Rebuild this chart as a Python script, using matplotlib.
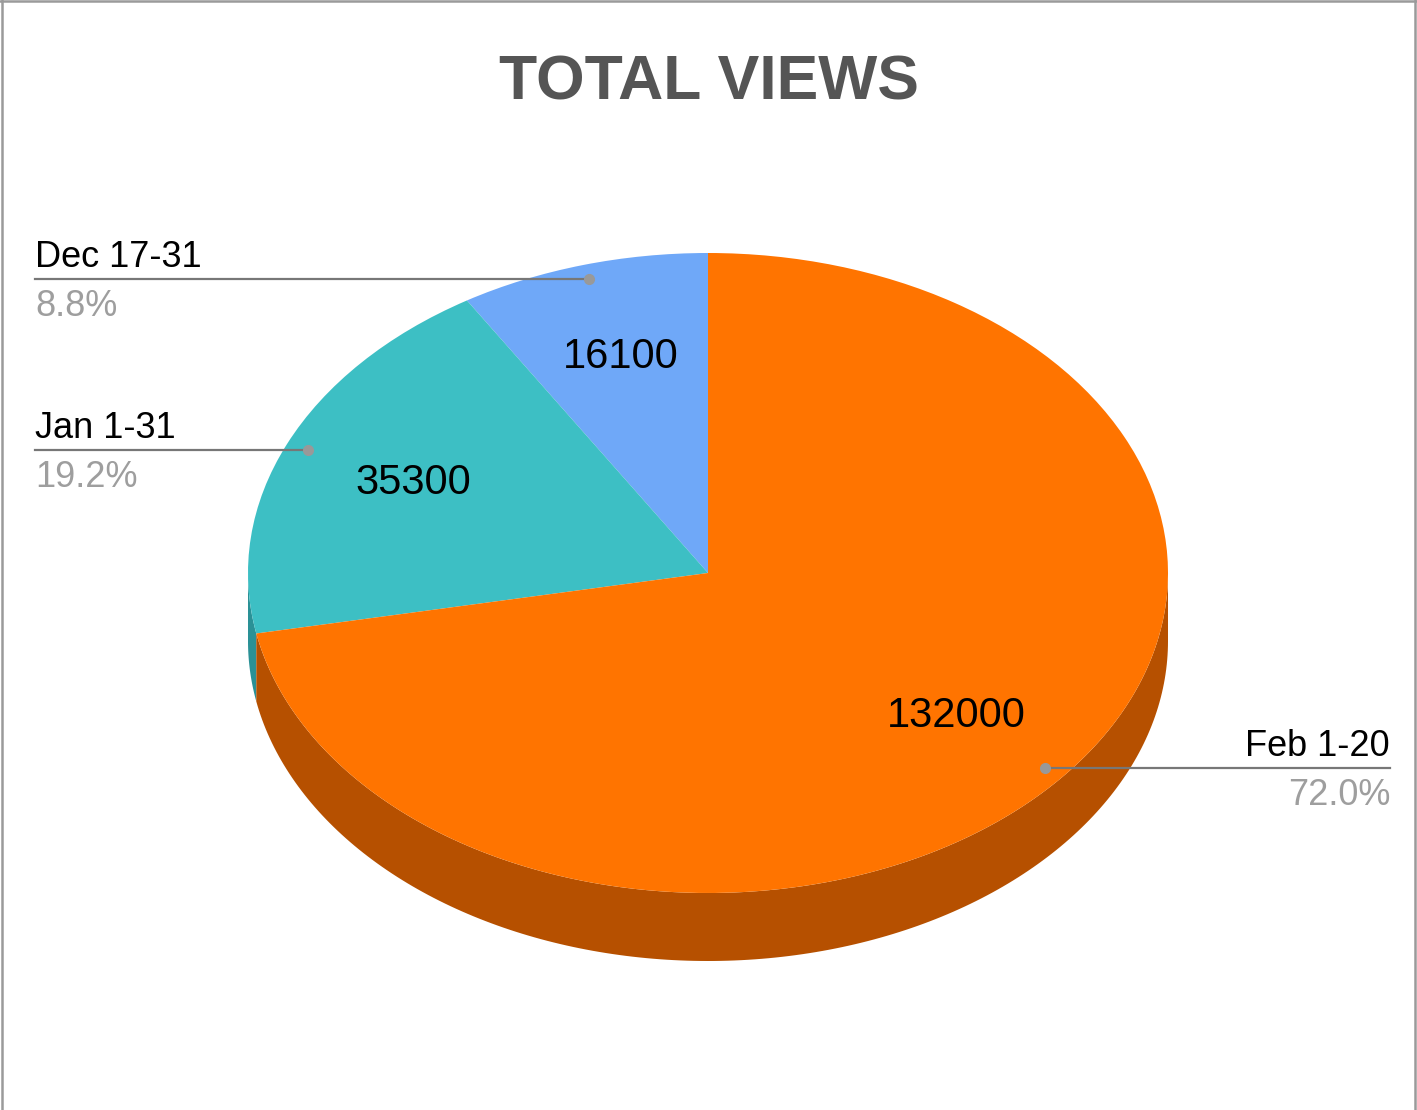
import numpy as np
import matplotlib
matplotlib.use("Agg")
import matplotlib.pyplot as plt
from matplotlib.lines import Line2D

plt.rcParams['font.family'] = ['Liberation Sans', 'DejaVu Sans']

# data
periods = ['Dec 17-31', 'Jan 1-31', 'Feb 1-20']
views = [16100, 35300, 132000]
top_colors = ['#6fa8f8', '#3dbfc4', '#ff7400']
side_colors = ['#4f7fc0', '#2a9196', '#b65000']

W, H = 1417, 1110
CX, CY, RX, RY = 708, 573, 460, 320   # pie centre / radii in pixels
DEPTH = 68 / RY


def px(x):
    return (x - CX) / RX


def py(y):
    return (CY - y) / RY


fig = plt.figure(figsize=(W / 100, H / 100), dpi=100)
fig.patch.set_facecolor('white')
ax = fig.add_axes([0, 0, 1, 1])

total = sum(views)
fracs = np.array(views) / total
t2 = 90 + 360 * np.cumsum(fracs)
t1 = t2 - 360 * fracs

# side wall (front half only)
for a, b, c in zip(t1, t2, side_colors):
    lo, hi = max(a, 180), min(b, 360)
    if lo >= hi:
        continue
    t = np.radians(np.linspace(lo, hi, 200))
    xs = np.concatenate([np.cos(t), np.cos(t[::-1])])
    ys = np.concatenate([np.sin(t), np.sin(t[::-1]) - DEPTH])
    ax.fill(xs, ys, color=c, lw=0, zorder=0)

ax.pie(views, colors=top_colors, startangle=90, counterclock=True,
       wedgeprops=dict(linewidth=0),
       autopct=lambda p: f"{round(p * total / 100)}", pctdistance=0.70,
       textprops=dict(fontsize=30, color='black'))

ax.set_aspect('auto')
ax.set_xlim(px(0), px(W))
ax.set_ylim(py(H), py(0))
ax.axis('off')

# leader lines and outside labels
label_x = [35, 35, 1390]
for name, f, a, b, lx in zip(periods, fracs, t1, t2, label_x):
    mid = np.radians((a + b) / 2)
    dx, dy = 0.95 * np.cos(mid), 0.955 * np.sin(mid)
    ha = 'left' if lx < CX else 'right'
    ax.plot([dx, px(lx)], [dy, dy], color='#777777', lw=1.6, zorder=3)
    ax.plot(dx, dy, 'o', color='#999999', ms=7, zorder=4)
    ax.text(px(lx), dy + 12 / RY, name, fontsize=26, color='black',
            ha=ha, va='baseline')
    ax.text(px(lx), dy - 37 / RY, f"{f * 100:.1f}%", fontsize=26,
            color='#9e9e9e', ha=ha, va='baseline')

ax.text(px(709), py(100), 'TOTAL VIEWS', fontsize=45, fontweight='bold',
        color='#555555', ha='center', va='baseline')

# frame around the image
for xs, ys in [([0.0015, 0.0015], [0, 1]), ([0, 1], [0.999, 0.999]),
               ([0.9985, 0.9985], [0, 1])]:
    fig.add_artist(Line2D(xs, ys, color='#9a9a9a', lw=1.8,
                          transform=fig.transFigure))

fig.savefig('out.png', dpi=100, facecolor='white')
